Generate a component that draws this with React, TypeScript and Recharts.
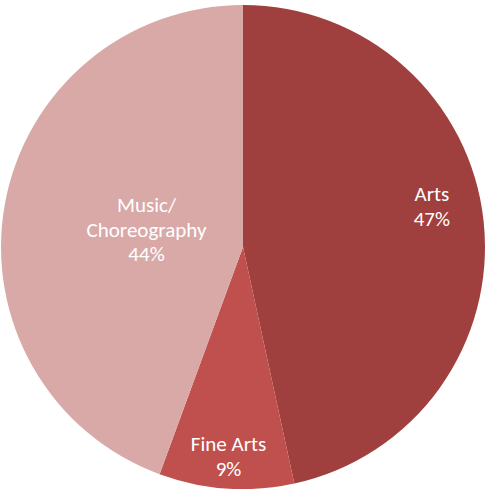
import React from 'react';
import { PieChart, Pie, Cell } from 'recharts';

const categories = ['Arts', 'Fine Arts', 'Music/Choreography'];
const shares = [46.6, 9.0, 44.4];
const labelLines = [['Arts'], ['Fine Arts'], ['Music/', 'Choreography']];

const colors = ['#a0403e', '#c0504d', '#d9a9a8'];

const data = categories.map((name, i) => ({ name, value: shares[i] }));

// per-slice label placement (fraction of radius, extra vertical nudge)
const labelRadius = [0.785, 0.868, 0.405];
const labelNudge = [-20, 0, 0];

const RADIAN = Math.PI / 180;
const LINE_H = 24.5;

const renderLabel = (props: any) => {
  const { cx, cy, midAngle, outerRadius, percent, index } = props;
  const r = outerRadius * labelRadius[index];
  const x = cx + r * Math.cos(-midAngle * RADIAN);
  const y = cy + r * Math.sin(-midAngle * RADIAN) + labelNudge[index];
  const lines = [...labelLines[index], `${Math.round(percent * 100)}%`];
  const first = y - ((lines.length - 1) * LINE_H) / 2 + 7;
  return (
    <text
      x={x}
      y={first}
      textAnchor="middle"
      fill="#ffffff"
      fontSize={21}
      fontFamily="Carlito, 'Noto Sans', sans-serif"
    >
      {lines.map((l, i) => (
        <tspan key={i} x={x} y={first + i * LINE_H}>
          {l}
        </tspan>
      ))}
    </text>
  );
};

const App: React.FC = () => {
  return (
    <div style={{ position: 'absolute', left: 0, top: 0, width: 486, height: 489, background: '#ffffff' }}>
      <PieChart width={486} height={489} margin={{ top: 0, right: 0, bottom: 0, left: 0 }}>
        <Pie
          data={data}
          dataKey="value"
          nameKey="name"
          cx={243}
          cy={247}
          outerRadius={242}
          startAngle={90}
          endAngle={-270}
          stroke="none"
          label={renderLabel}
          labelLine={false}
          isAnimationActive={false}
        >
          {data.map((entry, i) => (
            <Cell key={entry.name} fill={colors[i]} />
          ))}
        </Pie>
      </PieChart>
    </div>
  );
};

export default App;
